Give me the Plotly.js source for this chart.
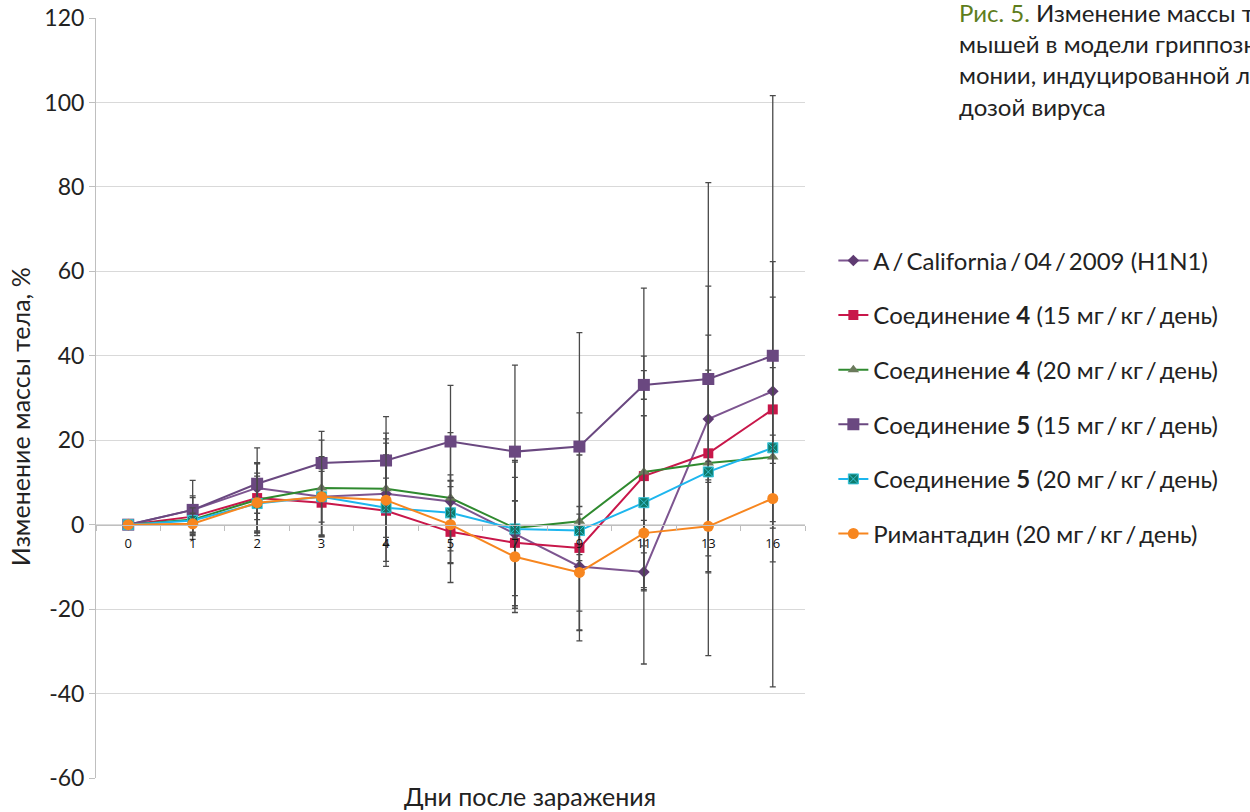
<!DOCTYPE html>
<html>
<head>
<meta charset="utf-8">
<script src="https://cdn.plot.ly/plotly-3.0.1.min.js"></script>
<style>
  html, body { margin: 0; padding: 0; background: #fff; overflow: hidden; }
  #chart { width: 1250px; height: 812px; }
</style>
</head>
<body>
<div id="chart"></div>
<script>
// Days after infection (category axis)
const days = ['0', '1', '2', '3', '4', '5', '7', '9', '11', '13', '16'];

// Y-axis ticks (printed with a plain hyphen for negatives)
const yTickValues = [-60, -40, -20, 0, 20, 40, 60, 80, 100, 120];
const yTickLabels = ['-60', '-40', '-20', '0', '20', '40', '60', '80', '100', '120'];

// Body-weight change, % (mean) and error values per group
const california      = [0, 3.5, 8.7, 6.6, 7.3, 5.5, -2.2, -9.9, -11.2, 25, 31.6];
const californiaErr   = [null, 3.3, 6, 9, 12, 5, 17, 10.6, 4.5, 56, 70];

const comp4dose15     = [0, 1.9, 6.3, 5.2, 3.3, -1.7, -4.3, -5.5, 11.5, 16.9, 27.3];
const comp4dose15Err  = [null, 4.5, 8.3, 8, 13.2, 12, 15.5, 22, 44.5, 28, 26.6];

const comp4dose20     = [0, 1.2, 5.9, 8.7, 8.5, 6.3, -0.8, 0.8, 12.5, 14.6, 16];
const comp4dose20Err  = [null, 3, 8.5, 11.3, 13.2, 15.5, 16, 25.7, 27.4, 22, 1.5];

const comp5dose15     = [0, 3.5, 9.7, 14.6, 15.2, 19.7, 17.3, 18.5, 33.1, 34.5, 40];
const comp5dose15Err  = [null, 7, 8.5, 7.5, 10.4, 13.3, 20.5, 27, 3.4, 22, 22.3];

const comp5dose20     = [0, 1, 5, 6.6, 4, 2.8, -1, -1.4, 5.2, 12.5, 18.2];
const comp5dose20Err  = [null, 3, 6.5, 6, 7, 9, 6.7, 5.7, 20.6, 2.5, 19];

const rimantadine     = [0, 0.2, 5.2, 6.6, 5.8, 0, -7.6, -11.3, -2, -0.4, 6.2];
const rimantadineErr  = [null, 2.5, 7, 9.5, 14.5, 9, 13.2, 13.8, 3, 11, 15];

const S = '\u2009/\u2009';
const seriesNames = [
  'A' + S + 'California' + S + '04' + S + '2009 (H1N1)',
  'Соединение <b>4</b> (15 мг' + S + 'кг' + S + 'день)',
  'Соединение <b>4</b> (20 мг' + S + 'кг' + S + 'день)',
  'Соединение <b>5</b> (15 мг' + S + 'кг' + S + 'день)',
  'Соединение <b>5</b> (20 мг' + S + 'кг' + S + 'день)',
  'Римантадин (20 мг' + S + 'кг' + S + 'день)'
];

const FONT = 'Lato, "Open Sans", sans-serif';
const TEXT = '#222';
const errStyle = (arr) => ({ type: 'data', array: arr, visible: true, color: '#4a4a4a', thickness: 1.3, width: 3 });

function series(i, y, err, lineColor, marker) {
  return {
    type: 'scatter', mode: 'lines+markers',
    x: days, y: y, name: seriesNames[i], legendgroup: 'g' + i,
    line: { color: lineColor, width: 2 },
    marker: marker,
    error_y: errStyle(err),
    cliponaxis: false
  };
}

const traces = [
  series(0, california, californiaErr, '#7d5590', { symbol: 'diamond', size: 9, color: '#5f3b72' }),
  series(1, comp4dose15, comp4dose15Err, '#c8174a', { symbol: 'square', size: 10, color: '#c8174a' }),
  series(2, comp4dose20, comp4dose20Err, '#2f8a2f', { symbol: 'triangle-up', size: 10, color: '#6b7a5c' }),
  series(3, comp5dose15, comp5dose15Err, '#6a4880', { symbol: 'square', size: 12, color: '#6a4880' }),
  series(4, comp5dose20, comp5dose20Err, '#1db6ee', { symbol: 'square-x', size: 10, color: '#0d7c6c', line: { color: '#36c2d8', width: 1 } }),
  series(5, rimantadine, rimantadineErr, '#f7861f', { symbol: 'circle', size: 11, color: '#f7861f' })
];

const layout = {
  width: 1250, height: 812,
  margin: { l: 96, r: 445, t: 18, b: 34 },
  paper_bgcolor: '#fff', plot_bgcolor: '#fff',
  font: { family: FONT, color: TEXT, size: 24 },
  showlegend: true,
  legend: {
    x: 1.04, xanchor: 'left', y: 0.71, yanchor: 'top',
    font: { family: FONT, size: 24, color: TEXT },
    tracegroupgap: 20.4, borderwidth: 0, bgcolor: 'rgba(0,0,0,0)',
    traceorder: 'grouped'
  },
  xaxis: {
    type: 'category', categoryorder: 'array', categoryarray: days,
    range: [-0.5, 10.5],
    anchor: 'free', position: 1 / 3,
    showline: true, linecolor: '#bfbfbf', linewidth: 1.5,
    showgrid: false, zeroline: false,
    ticks: 'outside', tickson: 'boundaries', ticklen: 5, tickcolor: '#bfbfbf',
    ticklabelstandoff: 6,
    tickfont: { family: '"Open Sans", sans-serif', size: 13, color: '#111' }
  },
  yaxis: {
    range: [-60, 120], tickmode: 'array', tickvals: yTickValues, ticktext: yTickLabels,
    showline: true, linecolor: '#bfbfbf', linewidth: 1,
    showgrid: true, gridcolor: '#d9d9d9', gridwidth: 1,
    zeroline: false,
    ticks: 'outside', ticklen: 6, tickcolor: '#bfbfbf',
    tickfont: { family: FONT, size: 23, color: TEXT }
  },
  annotations: [
    {
      xref: 'paper', yref: 'paper', x: -0.107, xanchor: 'center', y: 0.475, yanchor: 'middle',
      text: 'Изменение массы тела, %', textangle: -90, showarrow: false,
      font: { family: FONT, size: 25, color: TEXT }
    },
    {
      xref: 'paper', yref: 'paper', x: 0.612, xanchor: 'center', y: -0.0237, yanchor: 'middle',
      text: 'Дни после заражения', showarrow: false,
      font: { family: FONT, size: 25, color: TEXT }
    },
    {
      xref: 'paper', yref: 'paper', x: 1.214, xanchor: 'left', y: 1.029, yanchor: 'top',
      align: 'left', showarrow: false,
      text: '<span style="color:#5e7d1c">Рис. 5.</span> Изменение массы тела<br>мышей в модели гриппозной пнев-<br>монии, индуцированной летальной<br>дозой вируса',
      font: { family: FONT, size: 24, color: TEXT }
    }
  ]
};

Plotly.newPlot('chart', traces, layout, { displayModeBar: false, staticPlot: true });
</script>
</body>
</html>
